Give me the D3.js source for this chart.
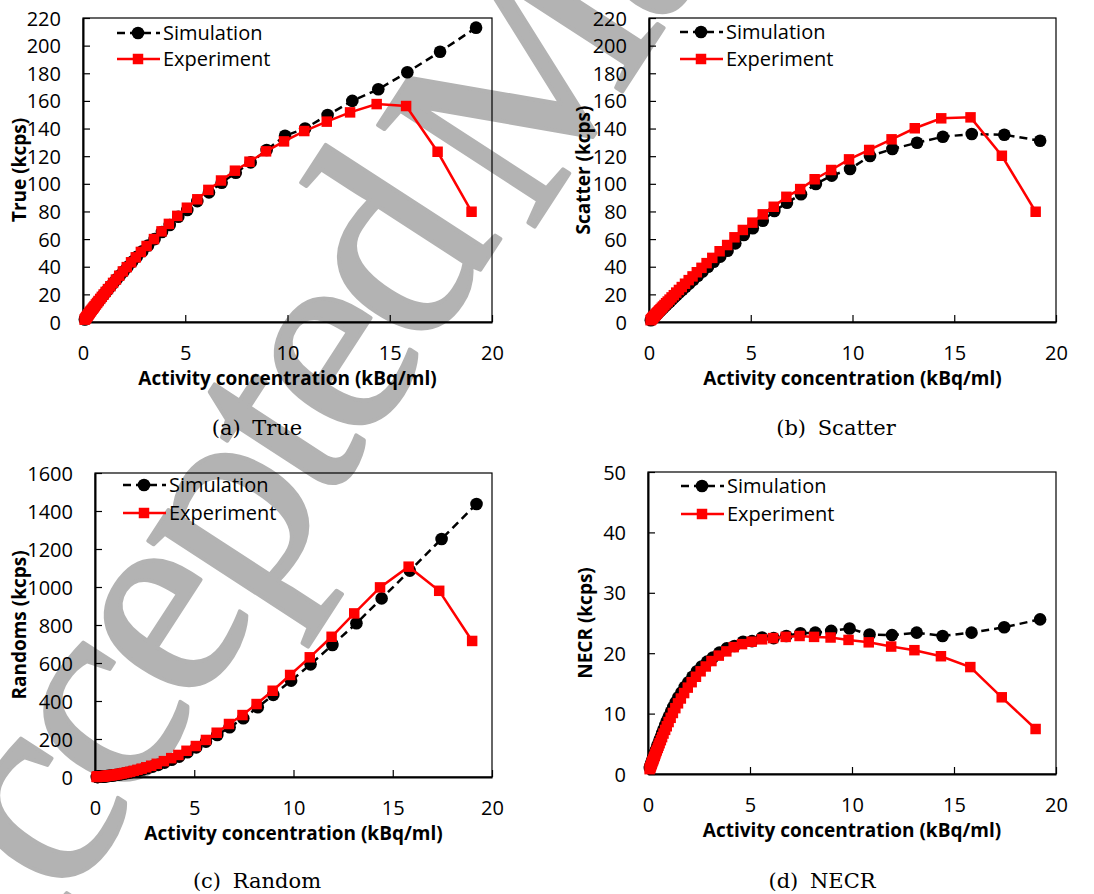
<!DOCTYPE html>
<html>
<head>
<meta charset="utf-8">
<script src="https://cdn.jsdelivr.net/npm/d3@7"></script>
<style>
  html, body { margin: 0; padding: 0; background: #fff; }
  svg { display: block; }
</style>
</head>
<body>
<svg id="chart" width="1094" height="894"></svg>
<script>
// ---------------- DATA ----------------
const simX = [19.22, 17.46, 15.86, 14.44, 13.17, 11.96, 10.86, 9.88, 8.98, 8.2, 7.47, 6.78, 6.16, 5.59, 5.1, 4.66, 4.24, 3.86, 3.5, 3.18,
  2.9, 2.63, 2.4, 2.18, 1.98, 1.8, 1.64, 1.49, 1.36, 1.24, 1.13, 1.02, 0.93, 0.85, 0.77, 0.7, 0.64, 0.58, 0.53, 0.48,
  0.44, 0.4, 0.36, 0.33, 0.3, 0.27, 0.25, 0.23, 0.21, 0.19, 0.17, 0.15, 0.13, 0.11, 0.09];
const expX = [19.0, 17.34, 15.8, 14.36, 13.06, 11.92, 10.82, 9.83, 8.95, 8.14, 7.43, 6.75, 6.13, 5.59, 5.08, 4.61, 4.2, 3.84, 3.47, 3.11,
  2.83, 2.58, 2.35, 2.14, 1.95, 1.77, 1.61, 1.47, 1.34, 1.22, 1.11, 1.01, 0.92, 0.84, 0.76, 0.69, 0.63, 0.57, 0.52, 0.48,
  0.43, 0.39, 0.36, 0.33, 0.3, 0.27, 0.25, 0.22, 0.2, 0.18, 0.16, 0.14, 0.12, 0.1, 0.08];

const trueSim = [213, 195.6, 180.7, 168.4, 160, 149.8, 140, 134.8, 124.5, 115.5, 108, 100.8, 93.8, 87.5, 81, 76.2, 70.2, 65.1, 60.0, 55.4,
  51.2, 47.1, 43.5, 39.9, 36.6, 33.6, 30.9, 28.3, 26.0, 23.9, 21.9, 19.9, 18.2, 16.7, 15.2, 13.9, 12.7, 11.6, 10.6, 9.6,
  8.9, 8.1, 7.3, 6.7, 6.1, 5.5, 5.1, 4.7, 4.3, 3.9, 3.4, 3.0, 2.6, 2.2, 1.8];
const trueExp = [79.8, 123.2, 156.3, 157.7, 151.7, 145, 138.2, 130.7, 123.5, 116, 109.5, 102.4, 95.6, 88.8, 82.7, 76.8, 71, 65.6, 60, 55,
  50.7, 46.8, 43.2, 39.7, 36.6, 33.5, 30.7, 28.3, 25.9, 23.8, 21.8, 19.9, 18.2, 16.7, 15.2, 13.8, 12.7, 11.5, 10.5, 9.7,
  8.8, 8.0, 7.4, 6.8, 6.2, 5.6, 5.1, 4.5, 4.1, 3.7, 3.3, 2.9, 2.5, 2.1, 1.7];

const scatterSim = [131.2, 135.5, 136.0, 134.1, 129.7, 125.2, 120.1, 110.7, 105.9, 99.9, 92.4, 86.3, 80.3, 73.3, 67.8, 63.0, 56.9, 51.6, 47.3, 43.6,
  40.0, 36.5, 33.5, 30.6, 27.9, 25.5, 23.3, 21.3, 19.5, 17.8, 16.3, 14.7, 13.5, 12.3, 11.2, 10.2, 9.3, 8.5, 7.8, 7.0,
  6.5, 5.9, 5.3, 4.8, 4.4, 4.0, 3.7, 3.4, 3.1, 2.8, 2.5, 2.2, 1.9, 1.6, 1.3];
const scatterExp = [79.8, 120.3, 148.1, 147.4, 140.2, 132.2, 124.5, 117.7, 110, 103.3, 96.2, 90.6, 83.4, 77.9, 71.9, 66.6, 61.3, 55.7, 51.2, 46.4,
  42.6, 39.2, 36.0, 33.0, 30.3, 27.7, 25.3, 23.2, 21.3, 19.4, 17.8, 16.2, 14.8, 13.6, 12.3, 11.2, 10.3, 9.3, 8.5, 7.9,
  7.1, 6.4, 5.9, 5.4, 4.9, 4.5, 4.1, 3.6, 3.3, 3.0, 2.6, 2.3, 2.0, 1.7, 1.3];

const randomsSim = [1437, 1253, 1086, 940, 809, 695, 593, 507, 432, 367, 309, 262, 221, 186, 156, 130, 107, 90.4, 75.8, 64.0,
  54.5, 46.0, 39.3, 33.3, 28.4, 24.2, 20.8, 17.8, 15.4, 13.3, 11.6, 9.9, 8.6, 7.6, 6.6, 5.7, 5.1, 4.4, 3.9, 3.4,
  3.0, 2.7, 2.3, 2.1, 1.8, 1.7, 1.5, 1.4, 1.2, 1.1, 0.9, 0.8, 0.7, 0.6, 0.5];
const randomsExp = [716, 980, 1107, 998, 861, 738, 630, 537, 454, 384, 326, 279, 233, 195, 163, 138, 116, 99.3, 83.5, 69.5,
  59.3, 51.0, 43.8, 37.7, 32.5, 27.9, 24.2, 21.1, 18.3, 16.0, 14.0, 12.3, 10.7, 9.4, 8.3, 7.3, 6.4, 5.7, 5.0, 4.6,
  4.0, 3.5, 3.2, 2.9, 2.6, 2.3, 2.1, 1.8, 1.6, 1.5, 1.3, 1.1, 0.9, 0.8, 0.6];

const necrSim = [25.6, 24.3, 23.4, 22.85, 23.4, 23.0, 23.1, 24.1, 23.7, 23.4, 23.3, 22.85, 22.5, 22.6, 22.0, 21.9, 21.2, 20.8, 20.1, 19.3,
  18.6, 17.8, 17.0, 16.1, 15.2, 14.4, 13.5, 12.7, 11.9, 11.1, 10.3, 9.5, 8.8, 8.1, 7.4, 6.8, 6.2, 5.7, 5.2, 4.8,
  4.4, 4.0, 3.7, 3.4, 3.1, 2.8, 2.6, 2.4, 2.2, 2.0, 1.8, 1.6, 1.4, 1.2, 1.0];
const necrExp = [7.45, 12.7, 17.7, 19.5, 20.5, 21.1, 21.8, 22.2, 22.6, 22.7, 22.85, 22.7, 22.5, 22.3, 21.9, 21.5, 21.0, 20.3, 19.6, 18.7,
  17.8, 17.0, 16.1, 15.2, 14.3, 13.4, 12.5, 11.7, 10.9, 10.1, 9.3, 8.6, 7.9, 7.3, 6.7, 6.1, 5.6, 5.1, 4.7, 4.3,
  3.9, 3.6, 3.3, 3.0, 2.8, 2.5, 2.3, 2.1, 1.9, 1.7, 1.5, 1.3, 1.1, 1.0, 0.8];

const xTicks = [0, 5, 10, 15, 20];
const countTicks = [0, 20, 40, 60, 80, 100, 120, 140, 160, 180, 200, 220];
const randomsTicks = [0, 200, 400, 600, 800, 1000, 1200, 1400, 1600];
const necrTicks = [0, 10, 20, 30, 40, 50];

const seriesNames = ["Simulation", "Experiment"];
const xTitle = "Activity concentration (kBq/ml)";
const yTitles = ["True (kcps)", "Scatter (kcps)", "Randoms (kcps)", "NECR (kcps)"];
const captions = ["(a) True", "(b) Scatter", "(c) Random", "(d) NECR"];
const watermarkWords = ["Accepted ", "Manuscript"];

// ---------------- LAYOUT ----------------
const panels = [
  { sim: trueSim, exp: trueExp, yMax: 220, yTicks: countTicks, yTitle: yTitles[0], caption: captions[0],
    box: { l: 83, r: 492, t: 18, b: 322 }, yTitleX: 19, legend: { x: 117, y1: 33, y2: 59 }, cap: { x: 257, y: 435 } },
  { sim: scatterSim, exp: scatterExp, yMax: 220, yTicks: countTicks, yTitle: yTitles[1], caption: captions[1],
    box: { l: 649, r: 1056, t: 18, b: 322 }, yTitleX: 583, legend: { x: 680, y1: 32, y2: 59 }, cap: { x: 836, y: 435 } },
  { sim: randomsSim, exp: randomsExp, yMax: 1600, yTicks: randomsTicks, yTitle: yTitles[2], caption: captions[2],
    box: { l: 95, r: 492, t: 473, b: 777 }, yTitleX: 19, legend: { x: 123, y1: 485, y2: 513 }, cap: { x: 257, y: 888 } },
  { sim: necrSim, exp: necrExp, yMax: 50, yTicks: necrTicks, yTitle: yTitles[3], caption: captions[3],
    box: { l: 648, r: 1056, t: 472, b: 774 }, yTitleX: 585, legend: { x: 681, y1: 486, y2: 514 }, cap: { x: 822, y: 888 } }
];

const FONT = "'Open Sans', Lato, sans-serif";
const RED = "#ff0000";
const svg = d3.select("#chart");
svg.append("rect").attr("width", 1094).attr("height", 894).attr("fill", "#fff");

// watermark (behind everything)
const wm = svg.append("text")
  .attr("transform", "translate(-38,1068) rotate(-57)")
  .attr("font-family", "'Liberation Serif', 'DejaVu Serif', serif")
  .attr("font-size", 285)
  .attr("letter-spacing", -12)
  .attr("fill", "#b3b3b3")
  .attr("stroke", "#b3b3b3")
  .attr("stroke-width", 4)
  .attr("stroke-linejoin", "round");
wm.append("tspan").text(watermarkWords[0]);
wm.append("tspan").attr("dx", -30).attr("dy", 22).text(watermarkWords[1]);

const squareSym = d3.symbol().type(d3.symbolSquare).size(110);
const fmt = d3.format("d");

panels.forEach(p => {
  const g = svg.append("g");
  const x = d3.scaleLinear().domain([0, 20]).range([p.box.l, p.box.r]);
  const y = d3.scaleLinear().domain([0, p.yMax]).range([p.box.b, p.box.t]);

  // plot area frame
  g.append("rect")
    .attr("x", p.box.l).attr("y", p.box.t)
    .attr("width", p.box.r - p.box.l).attr("height", p.box.b - p.box.t)
    .attr("fill", "none").attr("stroke", "#000").attr("stroke-width", 1.2);

  // axes (inside ticks)
  const xAxis = d3.axisBottom(x).tickValues(xTicks).tickFormat(fmt).tickSizeInner(-7).tickSizeOuter(0);
  const gx = g.append("g").attr("transform", `translate(0,${p.box.b})`).call(xAxis);
  const yAxis = d3.axisLeft(y).tickValues(p.yTicks).tickFormat(fmt).tickSizeInner(-7).tickSizeOuter(0).tickPadding(22);
  const gy = g.append("g").attr("transform", `translate(${p.box.l},0)`).call(yAxis);
  [gx, gy].forEach(ax => {
    ax.select(".domain").attr("stroke", "#000").attr("stroke-width", 2);
    ax.selectAll(".tick line").attr("stroke", "#000").attr("stroke-width", 1.2);
    ax.selectAll(".tick text").attr("font-family", FONT).attr("font-size", 20).attr("fill", "#000");
  });
  gx.selectAll(".tick text").attr("dy", "0.35em").attr("y", 31);
  gy.selectAll(".tick text").attr("dy", "0.35em");

  // titles
  g.append("text")
    .attr("x", (p.box.l + p.box.r) / 2).attr("y", p.box.b + 56).attr("dy", "0.35em")
    .attr("text-anchor", "middle").attr("font-family", FONT).attr("font-weight", 700)
    .attr("font-size", 19).text(xTitle);
  g.append("text")
    .attr("transform", `translate(${p.yTitleX},${(p.box.t + p.box.b) / 2}) rotate(-90)`)
    .attr("dy", "0.35em").attr("text-anchor", "middle").attr("font-family", FONT)
    .attr("font-weight", 700).attr("font-size", 19).text(p.yTitle);

  // series
  const simPts = simX.map((v, i) => [v, p.sim[i]]);
  const expPts = expX.map((v, i) => [v, p.exp[i]]);
  const line = d3.line().x(d => x(d[0])).y(d => y(d[1]));

  g.append("path").datum(simPts).attr("d", line)
    .attr("fill", "none").attr("stroke", "#000").attr("stroke-width", 2.5)
    .attr("stroke-dasharray", "8,5");
  g.selectAll("circle.sim").data(simPts).enter().append("circle")
    .attr("class", "sim").attr("cx", d => x(d[0])).attr("cy", d => y(d[1]))
    .attr("r", 6.3).attr("fill", "#000");

  g.append("path").datum(expPts).attr("d", line)
    .attr("fill", "none").attr("stroke", RED).attr("stroke-width", 2.5);
  g.selectAll("path.exp").data(expPts).enter().append("path")
    .attr("class", "exp").attr("d", squareSym)
    .attr("transform", d => `translate(${x(d[0])},${y(d[1])})`)
    .attr("fill", RED);

  // legend
  const L = p.legend;
  g.append("line").attr("x1", L.x).attr("x2", L.x + 43).attr("y1", L.y1).attr("y2", L.y1)
    .attr("stroke", "#000").attr("stroke-width", 2.5).attr("stroke-dasharray", "8,5");
  g.append("circle").attr("cx", L.x + 21).attr("cy", L.y1).attr("r", 6.3).attr("fill", "#000");
  g.append("line").attr("x1", L.x).attr("x2", L.x + 43).attr("y1", L.y2).attr("y2", L.y2)
    .attr("stroke", RED).attr("stroke-width", 2.5);
  g.append("path").attr("d", squareSym).attr("transform", `translate(${L.x + 21},${L.y2})`).attr("fill", RED);
  g.append("text").attr("x", L.x + 46).attr("y", L.y1).attr("dy", "0.35em")
    .attr("font-family", FONT).attr("font-size", 20).text(seriesNames[0]);
  g.append("text").attr("x", L.x + 46).attr("y", L.y2).attr("dy", "0.35em")
    .attr("font-family", FONT).attr("font-size", 20).text(seriesNames[1]);

  // caption
  svg.append("text").attr("x", p.cap.x).attr("y", p.cap.y).attr("text-anchor", "middle")
    .attr("font-family", "'DejaVu Serif', 'Liberation Serif', serif").attr("font-size", 21)
    .attr("word-spacing", 5).attr("fill", "#000").text(p.caption);
});
</script>
</body>
</html>
